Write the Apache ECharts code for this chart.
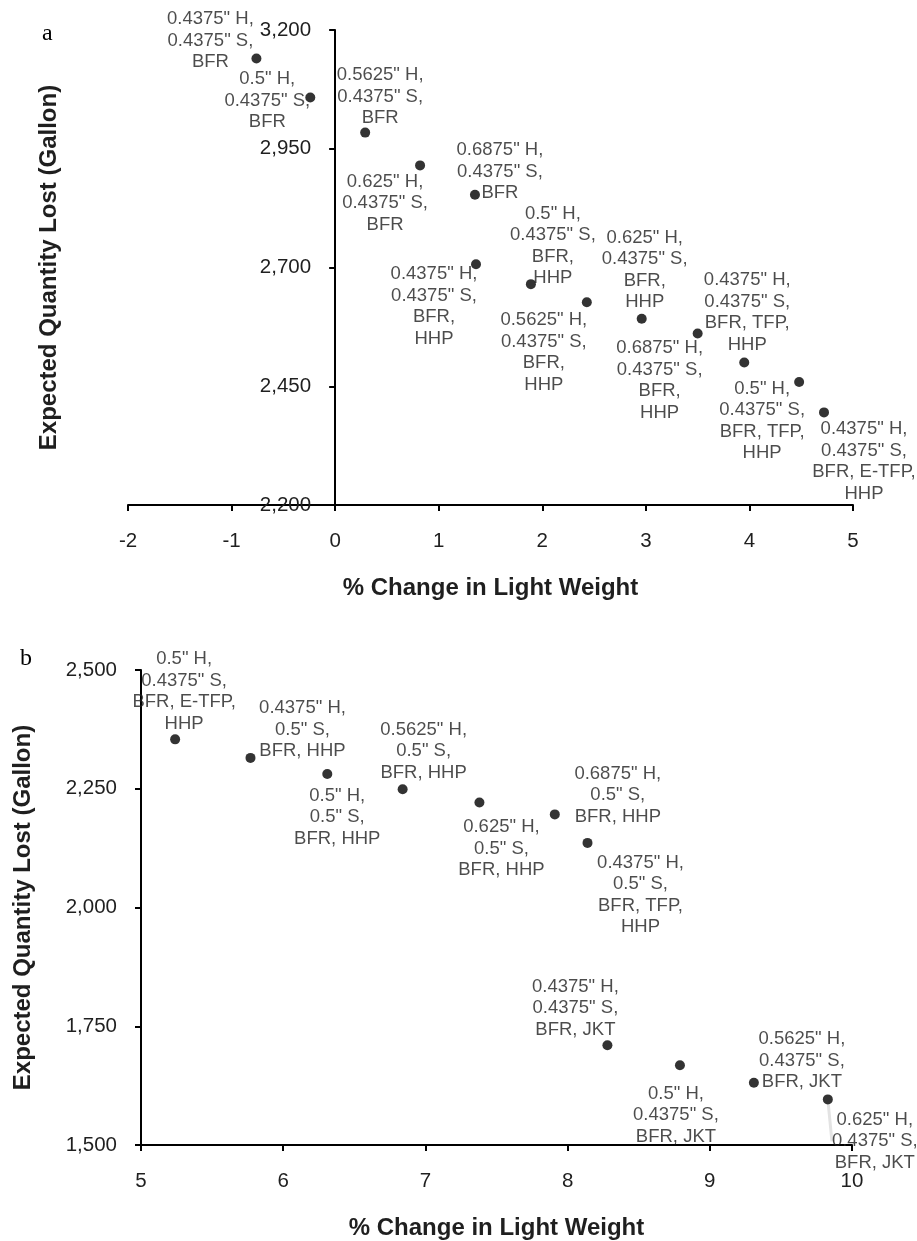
<!DOCTYPE html>
<html>
<head>
<meta charset="utf-8">
<script src="https://cdn.jsdelivr.net/npm/echarts@6/dist/echarts.min.js"></script>
<style>
html,body{margin:0;padding:0;background:#fff;}
#c{width:917px;height:1241px;}
</style>
</head>
<body>
<div id="c"></div>
<script>
// ---------- Data: panel a ----------
var aX = [-0.76, -0.24, 0.29, 0.82, 1.35, 1.36, 1.89, 2.43, 2.96, 3.50, 3.95, 4.48, 4.72];
var aY = [3140, 3058, 2984, 2915, 2853, 2707, 2665, 2627, 2592, 2561, 2500, 2459, 2395];
var aLabels = [
  '0.4375" H,\n0.4375" S,\nBFR',
  '0.5" H,\n0.4375" S,\nBFR',
  '0.5625" H,\n0.4375" S,\nBFR',
  '0.625" H,\n0.4375" S,\nBFR',
  '0.6875" H,\n0.4375" S,\nBFR',
  '0.4375" H,\n0.4375" S,\nBFR,\nHHP',
  '0.5" H,\n0.4375" S,\nBFR,\nHHP',
  '0.5625" H,\n0.4375" S,\nBFR,\nHHP',
  '0.625" H,\n0.4375" S,\nBFR,\nHHP',
  '0.6875" H,\n0.4375" S,\nBFR,\nHHP',
  '0.4375" H,\n0.4375" S,\nBFR, TFP,\nHHP',
  '0.5" H,\n0.4375" S,\nBFR, TFP,\nHHP',
  '0.4375" H,\n0.4375" S,\nBFR, E-TFP,\nHHP'
];
var aXTicks = {min: -2, max: 5, interval: 1};
var aYTicks = {min: 2200, max: 3200, interval: 250};

// ---------- Data: panel b ----------
var bX = [5.24, 5.77, 6.31, 6.84, 7.38, 7.91, 8.14, 8.28, 8.79, 9.31, 9.83];
var bY = [2354, 2315, 2281, 2249, 2221, 2196, 2136, 1710, 1668, 1631, 1596];
var bLabels = [
  '0.5" H,\n0.4375" S,\nBFR, E-TFP,\nHHP',
  '0.4375" H,\n0.5" S,\nBFR, HHP',
  '0.5" H,\n0.5" S,\nBFR, HHP',
  '0.5625" H,\n0.5" S,\nBFR, HHP',
  '0.625" H,\n0.5" S,\nBFR, HHP',
  '0.6875" H,\n0.5" S,\nBFR, HHP',
  '0.4375" H,\n0.5" S,\nBFR, TFP,\nHHP',
  '0.4375" H,\n0.4375" S,\nBFR, JKT',
  '0.5" H,\n0.4375" S,\nBFR, JKT',
  '0.5625" H,\n0.4375" S,\nBFR, JKT',
  '0.625" H,\n0.4375" S,\nBFR, JKT'
];
var bXTicks = {min: 5, max: 10, interval: 1};
var bYTicks = {min: 1500, max: 2500, interval: 250};

var xTitle = '% Change in Light Weight';
var yTitle = 'Expected Quantity Lost (Gallon)';

// ---------- Label placement (pixel offsets of label centre from its point) ----------
var aLabelOffsets = [[-46,-18],[-43,3],[15,-36],[-35,38],[25,-23],[-42,42],[22,-38],[-43,50],[3,-49],[-38,47],[3,-50],[-37,39],[40,49]];
var bLabelOffsets = [[9,-48],[52,-28],[10,43],[21,-38],[22,46],[63,-19],[53,52],[-32,-37],[-4,50],[48,-22],[47,42]];
var bLeaderIndex = [10];

var FONT = '"Liberation Sans", Arial, sans-serif';
var TXT = '#1f1f1f';

// grid geometry (pixels)
var gridA = {left: 128, top: 30, width: 725, height: 475};
var gridB = {left: 141, top: 670, width: 711, height: 475};
// panel a: the vertical axis crosses the horizontal axis at x = 0
var aYAxisShift = -gridA.width * (0 - aXTicks.min) / (aXTicks.max - aXTicks.min);

function pairs(xs, ys) {
  return xs.map(function (x, i) { return [x, ys[i]]; });
}
function fmt(v) { return Number(v).toLocaleString('en-US'); }

function xAxisCfg(grid, t) {
  return {
    type: 'value', gridIndex: grid, min: t.min, max: t.max, interval: t.interval,
    name: xTitle, nameLocation: 'middle', nameGap: 71,
    nameTextStyle: {fontFamily: FONT, fontSize: 24, fontWeight: 'bold', color: TXT},
    axisLine: {show: true, onZero: false, lineStyle: {color: '#000', width: 2}},
    axisTick: {show: true, length: 6, inside: false, lineStyle: {color: '#000', width: 2}},
    axisLabel: {fontFamily: FONT, fontSize: 20.5, color: TXT, margin: 26},
    splitLine: {show: false}
  };
}
function yAxisCfg(grid, t, gap, shift) {
  return {
    type: 'value', gridIndex: grid, min: t.min, max: t.max, interval: t.interval,
    offset: shift,
    name: yTitle, nameLocation: 'middle', nameGap: gap,
    nameTextStyle: {fontFamily: FONT, fontSize: 24, fontWeight: 'bold', color: TXT},
    axisLine: {show: true, onZero: false, lineStyle: {color: '#000', width: 2}},
    axisTick: {show: true, length: 6, inside: false, lineStyle: {color: '#000', width: 2}},
    axisLabel: {fontFamily: FONT, fontSize: 20.5, color: TXT, margin: 24, formatter: fmt},
    splitLine: {show: false}
  };
}
function seriesCfg(idx, xs, ys, labels, offs, leaders) {
  var data = pairs(xs, ys).map(function (p, i) {
    var item = {value: p, label: {formatter: labels[i]}};
    if (leaders && leaders.indexOf(i) >= 0) {
      item.labelLine = {show: true, lineStyle: {color: '#e3e3e3', width: 3}};
    }
    return item;
  });
  return {
    type: 'scatter', xAxisIndex: idx, yAxisIndex: idx,
    symbol: 'circle', symbolSize: 10,
    itemStyle: {color: '#000'},
    data: data,
    label: {
      show: true, position: 'inside', align: 'center', verticalAlign: 'middle',
      fontFamily: FONT, fontSize: 18.5, lineHeight: 21.5, color: TXT,
      textBorderWidth: 0
    },
    labelLayout: function (p) {
      return {dx: offs[p.dataIndex][0], dy: offs[p.dataIndex][1]};
    },
    emphasis: {disabled: true},
    animation: false
  };
}

var chart = echarts.init(document.getElementById('c'), null, {renderer: 'canvas'});
chart.setOption({
  backgroundColor: '#fff',
  animation: false,
  grid: [
    Object.assign({outerBoundsMode: 'none', containLabel: false}, gridA),
    Object.assign({outerBoundsMode: 'none', containLabel: false}, gridB)
  ],
  xAxis: [xAxisCfg(0, aXTicks), xAxisCfg(1, bXTicks)],
  yAxis: [yAxisCfg(0, aYTicks, 274, aYAxisShift), yAxisCfg(1, bYTicks, 106, 0)],
  series: [
    seriesCfg(0, aX, aY, aLabels, aLabelOffsets, null),
    seriesCfg(1, bX, bY, bLabels, bLabelOffsets, bLeaderIndex)
  ],
  graphic: [
    {type: 'text', left: 42, top: 22, style: {text: 'a', font: '24px "Liberation Serif", "Times New Roman", serif', fill: '#000'}},
    {type: 'text', left: 20, top: 647, style: {text: 'b', font: '24px "Liberation Serif", "Times New Roman", serif', fill: '#000'}}
  ]
});
</script>
</body>
</html>
